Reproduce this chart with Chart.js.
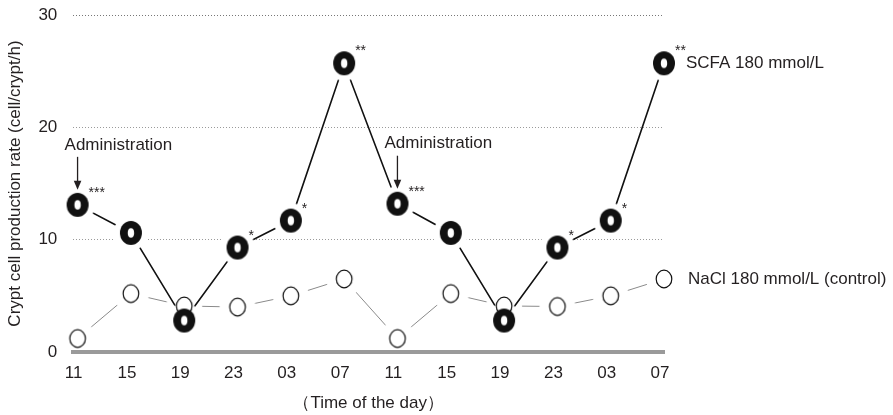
<!DOCTYPE html>
<html><head><meta charset="utf-8">
<script src="https://cdn.jsdelivr.net/npm/chart.js@4/dist/chart.umd.min.js"></script>
<style>html,body{margin:0;padding:0;background:#fff;} #wrap{width:893px;height:415px;position:relative;}</style>
</head><body><div id="wrap"><canvas id="c" width="893" height="415"></canvas></div>
<script>
const timeLabels = ['11','15','19','23','03','07','11','15','19','23','03','07'];
const scfaValues = [13.1,10.6,2.8,9.3,11.7,25.7,13.2,10.6,2.8,9.3,11.7,25.7];
const naclValues = [1.2,5.2,4.1,4.0,5.0,6.5,1.2,5.2,4.1,4.05,5.0,6.5];
const scfaStars = ['***','','','*','*','**','***','','','*','*','**'];
const adminIndices = [0,6];
const yTicks = [0,10,20,30];
const seriesNames = ['SCFA 180 mmol/L','NaCl 180 mmol/L (control)'];
const adminText = 'Administration';
const xTitle = '（Time of the day）';
const yTitle = 'Crypt cell production rate (cell/crypt/h)';

const FONT = '"Liberation Sans", Arial, Helvetica, sans-serif';
const TXT = '#231f20';
Chart.defaults.font.family = FONT;

function makeCanvas(w,h,draw){const c=document.createElement('canvas');c.width=w;c.height=h;draw(c.getContext('2d'),w/2,h/2);return c;}
const ringStyle = makeCanvas(26,28,(g,cx,cy)=>{g.fillStyle='#111';g.beginPath();g.ellipse(cx,cy,11,12,0,0,Math.PI*2);g.fill();g.fillStyle='#fff';g.beginPath();g.ellipse(cx,cy,3.2,4.8,0,0,Math.PI*2);g.fill();});
const openStyle = makeCanvas(22,24,(g,cx,cy)=>{g.fillStyle='#fff';g.strokeStyle='#111';g.lineWidth=1.2;g.beginPath();g.ellipse(cx,cy,7.8,8.8,0,0,Math.PI*2);g.fill();g.stroke();});
const haloS = makeCanvas(36,36,(g,cx,cy)=>{g.fillStyle='#fff';g.beginPath();g.arc(cx,cy,17.5,0,Math.PI*2);g.fill();});
const haloN = makeCanvas(38,38,(g,cx,cy)=>{g.fillStyle='#fff';g.beginPath();g.arc(cx,cy,18,0,Math.PI*2);g.fill();});

const scfaPts = scfaValues.map((y,i)=>({x:i,y}));
const naclPts = naclValues.map((y,i)=>({x:i,y}));

const annot = {
  id:'annot',
  afterDatasetsDraw(chart){
    const ctx=chart.ctx;
    const sm=chart.getDatasetMeta(0), nm=chart.getDatasetMeta(1);
    ctx.save();
    ctx.fillStyle=TXT; ctx.strokeStyle=TXT;
    ctx.font='14px '+FONT; ctx.textAlign='left'; ctx.textBaseline='alphabetic';
    scfaStars.forEach((s,i)=>{ if(!s) return; const p=sm.data[i]; ctx.fillText(s,p.x+11,p.y-8); });
    ctx.font='17px '+FONT; ctx.textBaseline='middle';
    adminIndices.forEach(i=>{
      const p=sm.data[i];
      ctx.fillText(adminText,p.x-13,p.y-60);
      ctx.lineWidth=1.3; ctx.beginPath(); ctx.moveTo(p.x,p.y-48); ctx.lineTo(p.x,p.y-22); ctx.stroke();
      ctx.beginPath(); ctx.moveTo(p.x-3.8,p.y-24); ctx.lineTo(p.x+3.8,p.y-24); ctx.lineTo(p.x,p.y-15); ctx.closePath(); ctx.fill();
    });
    const ls=sm.data[sm.data.length-1], ln=nm.data[nm.data.length-1];
    ctx.fillText(seriesNames[0],ls.x+22,ls.y);
    ctx.fillText(seriesNames[1],ln.x+24,ln.y);
    ctx.restore();
  }
};

new Chart(document.getElementById('c'),{
  type:'line',
  data:{datasets:[
    {label:seriesNames[0],data:scfaPts,order:0,showLine:false,pointStyle:ringStyle,pointRadius:12,clip:false},
    {label:seriesNames[1],data:naclPts,order:1,showLine:false,pointStyle:openStyle,pointRadius:10,clip:false},
    {label:'scfa-line',data:scfaPts,order:2,borderColor:'#111',borderWidth:1.6,pointStyle:haloS,pointRadius:12,clip:false,tension:0},
    {label:'nacl-line',data:naclPts,order:3,borderColor:'#8a8a8a',borderWidth:1,pointStyle:haloN,pointRadius:12,clip:false,tension:0}
  ]},
  options:{
    responsive:false, animation:false, events:[],
    layout:{padding:{left:0,top:15,right:229,bottom:0}},
    plugins:{legend:{display:false},tooltip:{enabled:false}},
    scales:{
      x:{type:'linear',min:-0.08,max:11,
        afterBuildTicks:s=>{s.ticks=timeLabels.map((_,i)=>({value:i}));},
        afterFit:s=>{s.height=63;s.paddingLeft=0;s.paddingRight=0;},
        grid:{display:false},
        border:{display:true,color:'#9a9a9a',width:4,z:1},
        ticks:{autoSkip:false,maxRotation:0,padding:3,labelOffset:-4,color:TXT,font:{size:17},callback:v=>timeLabels[v]},
        title:{display:true,text:xTitle,color:TXT,font:{size:17},padding:{top:0,bottom:1}}
      },
      y:{min:0,max:30,
        afterBuildTicks:s=>{s.ticks=yTicks.map(v=>({value:v}));},
        afterFit:s=>{s.width=73.3;s.paddingTop=0;s.paddingBottom=0;},
        grid:{drawTicks:false,lineWidth:1,color:c=>c.tick&&c.tick.value===0?'rgba(0,0,0,0)':(c.tick&&c.tick.value===30?'#777':'#9a9a9a')},
        border:{display:false,dash:[1,2]},
        ticks:{padding:16,color:TXT,font:{size:17},callback:v=>String(v)},
        title:{display:true,text:yTitle,color:TXT,font:{size:17},padding:{top:5,bottom:0}}
      }
    }
  },
  plugins:[annot]
});
</script></body></html>
